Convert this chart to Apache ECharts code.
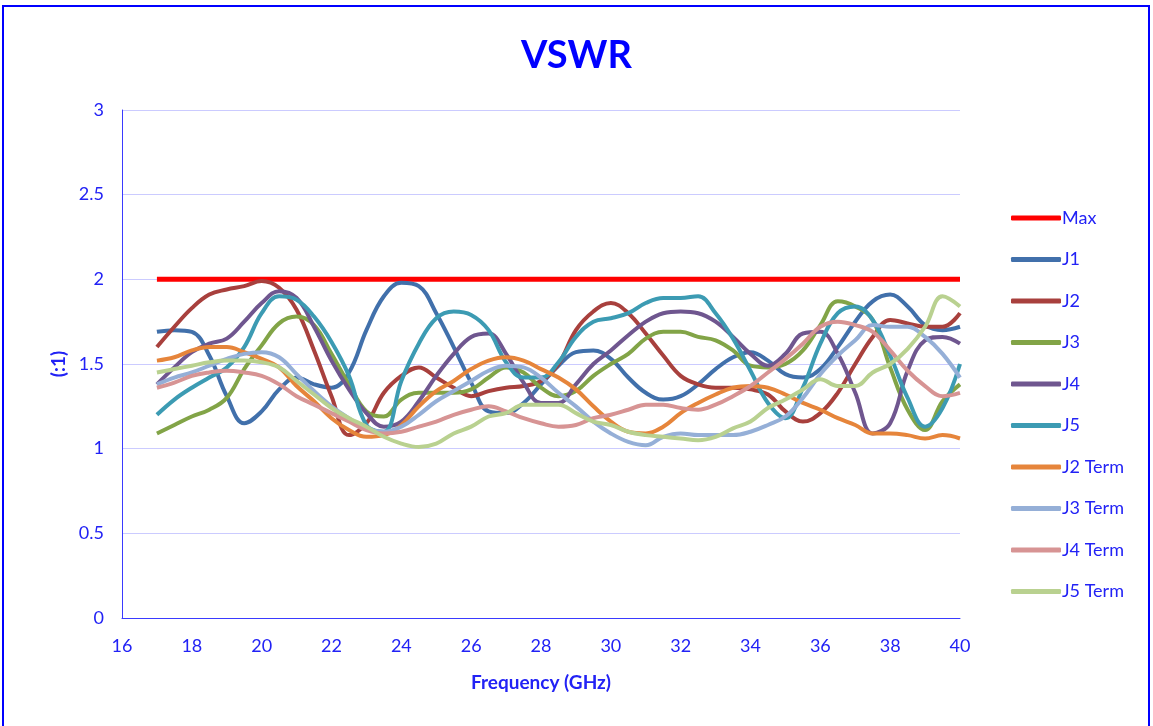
<!DOCTYPE html>
<html>
<head>
<meta charset="utf-8">
<script src="https://cdn.jsdelivr.net/npm/echarts@6/dist/echarts.min.js"></script>
<style>
html, body { margin: 0; padding: 0; background: #fff; }
#vswr { width: 1153px; height: 726px; }
</style>
</head>
<body>
<div id="vswr"></div>
<script>
var vswrChart = echarts.init(document.getElementById('vswr'));

// frequency points (GHz)
var freqs = [17, 17.5, 18, 18.5, 19, 19.5, 20, 20.5, 21, 21.5, 22, 22.5, 23, 23.5, 24, 24.5,
    25, 25.5, 26, 26.5, 27, 27.5, 28, 28.5, 29, 29.5, 30, 30.5, 31, 31.5, 32, 32.5,
    33, 33.5, 34, 34.5, 35, 35.5, 36, 36.5, 37, 37.5, 38, 38.5, 39, 39.5, 40];

var maxLimit = 2;

var j1 = [1.69, 1.70, 1.69, 1.55, 1.31, 1.15, 1.22, 1.35, 1.42, 1.38, 1.36, 1.45, 1.70, 1.90, 1.98, 1.96,
    1.80, 1.60, 1.39, 1.22, 1.21, 1.27, 1.38, 1.49, 1.57, 1.58, 1.53, 1.42, 1.33, 1.29, 1.31, 1.38,
    1.47, 1.54, 1.57, 1.52, 1.44, 1.42, 1.47, 1.60, 1.75, 1.87, 1.91, 1.84, 1.73, 1.70, 1.72];
var j2 = [1.60, 1.72, 1.83, 1.91, 1.94, 1.96, 1.99, 1.95, 1.82, 1.58, 1.31, 1.08, 1.15, 1.33, 1.43, 1.48,
    1.42, 1.36, 1.31, 1.34, 1.36, 1.37, 1.40, 1.50, 1.70, 1.81, 1.86, 1.80, 1.68, 1.55, 1.43, 1.38,
    1.36, 1.36, 1.35, 1.32, 1.22, 1.16, 1.21, 1.33, 1.50, 1.66, 1.76, 1.74, 1.72, 1.72, 1.80];
var j3 = [1.09, 1.14, 1.19, 1.23, 1.30, 1.47, 1.61, 1.74, 1.78, 1.73, 1.56, 1.38, 1.22, 1.19, 1.29, 1.33,
    1.33, 1.33, 1.35, 1.42, 1.48, 1.45, 1.36, 1.31, 1.34, 1.43, 1.50, 1.56, 1.65, 1.69, 1.69, 1.66,
    1.64, 1.58, 1.49, 1.48, 1.50, 1.58, 1.73, 1.87, 1.84, 1.76, 1.48, 1.23, 1.11, 1.28, 1.38];
var j4 = [1.38, 1.48, 1.57, 1.62, 1.65, 1.75, 1.86, 1.93, 1.89, 1.72, 1.52, 1.35, 1.21, 1.13, 1.16, 1.28,
    1.43, 1.56, 1.66, 1.68, 1.56, 1.39, 1.27, 1.27, 1.38, 1.50, 1.58, 1.67, 1.75, 1.80, 1.81, 1.80,
    1.75, 1.66, 1.56, 1.49, 1.56, 1.68, 1.69, 1.56, 1.33, 1.09, 1.15, 1.46, 1.64, 1.66, 1.62];
var j5 = [1.20, 1.29, 1.36, 1.42, 1.48, 1.60, 1.80, 1.90, 1.88, 1.78, 1.63, 1.43, 1.14, 1.10, 1.40, 1.62,
    1.77, 1.81, 1.79, 1.70, 1.51, 1.42, 1.42, 1.51, 1.66, 1.75, 1.77, 1.80, 1.86, 1.89, 1.89, 1.90,
    1.80, 1.65, 1.46, 1.27, 1.18, 1.36, 1.62, 1.80, 1.84, 1.76, 1.55, 1.30, 1.13, 1.24, 1.50];
var j2Term = [1.52, 1.54, 1.58, 1.60, 1.60, 1.57, 1.53, 1.48, 1.37, 1.28, 1.18, 1.11, 1.07, 1.08, 1.14, 1.25,
    1.34, 1.40, 1.47, 1.52, 1.54, 1.52, 1.47, 1.42, 1.35, 1.25, 1.16, 1.10, 1.09, 1.13, 1.21, 1.27,
    1.32, 1.36, 1.37, 1.36, 1.32, 1.27, 1.23, 1.18, 1.14, 1.09, 1.09, 1.08, 1.06, 1.08, 1.06];
var j3Term = [1.38, 1.42, 1.45, 1.49, 1.53, 1.56, 1.57, 1.54, 1.44, 1.34, 1.25, 1.18, 1.12, 1.10, 1.13, 1.20,
    1.28, 1.34, 1.40, 1.46, 1.49, 1.48, 1.42, 1.33, 1.25, 1.16, 1.09, 1.04, 1.02, 1.07, 1.09, 1.08,
    1.08, 1.08, 1.10, 1.14, 1.19, 1.30, 1.44, 1.55, 1.64, 1.73, 1.72, 1.72, 1.66, 1.56, 1.42];
var j4Term = [1.36, 1.39, 1.43, 1.45, 1.46, 1.45, 1.43, 1.38, 1.31, 1.26, 1.21, 1.16, 1.11, 1.09, 1.10, 1.13,
    1.16, 1.20, 1.23, 1.25, 1.22, 1.18, 1.15, 1.13, 1.14, 1.18, 1.20, 1.23, 1.26, 1.26, 1.24, 1.23,
    1.26, 1.31, 1.37, 1.45, 1.53, 1.62, 1.72, 1.75, 1.73, 1.69, 1.58, 1.46, 1.37, 1.31, 1.33];
var j5Term = [1.45, 1.47, 1.49, 1.51, 1.52, 1.52, 1.51, 1.48, 1.40, 1.32, 1.24, 1.18, 1.13, 1.07, 1.03, 1.01,
    1.03, 1.09, 1.13, 1.19, 1.21, 1.26, 1.26, 1.26, 1.21, 1.16, 1.14, 1.10, 1.08, 1.07, 1.06, 1.05,
    1.07, 1.12, 1.16, 1.24, 1.29, 1.35, 1.41, 1.37, 1.37, 1.45, 1.50, 1.59, 1.72, 1.90, 1.84];

var seriesNames = ['Max', 'J1', 'J2', 'J3', 'J4', 'J5', 'J2 Term', 'J3 Term', 'J4 Term', 'J5 Term'];
var seriesValues = [null, j1, j2, j3, j4, j5, j2Term, j3Term, j4Term, j5Term];
// 颜色
var colorList = ['#FF0000', '#4170AB', '#A8403D', '#82A447', '#6F568F', '#3C9BB3',
    '#E6853B', '#95AFD7', '#D79494', '#B9D190'];

var txtBlue = '#2222F5';
var fontName = 'Lato';

function pairs(vals) {
    return freqs.map(function (f, i) { return [f, vals[i]]; });
}

var series = seriesNames.map(function (name, idx) {
    var vals = seriesValues[idx];
    if (!vals) {
        vals = freqs.map(function () { return maxLimit; });
    }
    return {
        name: name,
        type: 'line',
        data: pairs(vals),
        smooth: idx === 0 ? false : 0.4,
        showSymbol: false,
        symbol: 'none',
        animation: false,
        color: colorList[idx],
        lineStyle: {
            width: idx === 0 ? 5 : 4,
            color: colorList[idx]
        }
    };
});

var option = {
    backgroundColor: '#fff',
    textStyle: { fontFamily: fontName },
    title: {
        text: 'VSWR',
        left: 'center',
        top: 32,
        textStyle: {
            color: '#0000FF',
            fontSize: 38,
            fontWeight: 'bold',
            fontFamily: fontName
        }
    },
    legend: {
        orient: 'vertical',
        left: 1006,
        top: 203,
        itemWidth: 50,
        itemHeight: 5,
        itemGap: 21.5,
        icon: 'roundRect',
        textStyle: {
            color: txtBlue,
            fontSize: 18,
            lineHeight: 20,
            padding: [0, 0, 0, -4]
        },
        data: seriesNames
    },
    grid: {
        left: 122,
        right: 193,
        top: 110,
        bottom: 108
    },
    xAxis: {
        type: 'value',
        min: 16,
        max: 40,
        interval: 2,
        name: 'Frequency (GHz)',
        nameLocation: 'middle',
        nameGap: 55,
        nameTextStyle: { color: txtBlue, fontSize: 19, fontWeight: 'bold' },
        axisLine: { show: true, lineStyle: { color: '#3A3AFF', width: 1 } },
        axisTick: { show: false },
        splitLine: { show: false },
        axisLabel: { color: txtBlue, fontSize: 18, margin: 19 }
    },
    yAxis: {
        type: 'value',
        min: 0,
        max: 3,
        interval: 0.5,
        name: '(:1)',
        nameLocation: 'middle',
        nameRotate: 90,
        nameGap: 54,
        nameTextStyle: { color: txtBlue, fontSize: 19, fontWeight: 'bold' },
        axisLine: { show: true, lineStyle: { color: '#3A3AFF', width: 1 } },
        axisTick: { show: false },
        splitLine: { show: true, lineStyle: { color: '#CBCBFF', width: 1 } },
        axisLabel: { color: txtBlue, fontSize: 18, margin: 18 }
    },
    graphic: [{
        type: 'rect',
        silent: true,
        shape: { x: 3, y: 6, width: 1146, height: 740 },
        style: { fill: 'none', stroke: '#0000FF', lineWidth: 2 }
    }],
    series: series
};

vswrChart.setOption(option);
</script>
</body>
</html>
